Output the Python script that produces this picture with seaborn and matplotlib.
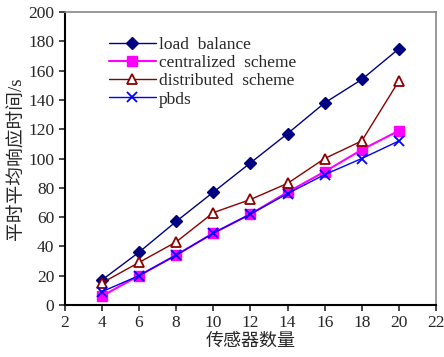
import numpy as np
import pandas as pd
import matplotlib
matplotlib.use("Agg")
import matplotlib.pyplot as plt
import seaborn as sns

sensors = [4, 6, 8, 10, 12, 14, 16, 18, 20]
load_balance = [17, 36, 57, 77, 97, 117, 138, 154, 175]
centralized = [6, 20, 34, 49, 62, 77, 91, 106, 119]
distributed = [15, 29, 43, 63, 72, 83, 100, 112, 153]
pbds = [9, 20, 34, 49, 62, 76, 89, 100, 112]

series_names = ["load  balance", "centralized  scheme", "distributed  scheme", "pbds"]

df = pd.DataFrame({
    "x": sensors * 4,
    "y": load_balance + centralized + distributed + pbds,
    "series": sum([[n] * len(sensors) for n in series_names], []),
})

sns.set_style("ticks")
plt.rcParams["font.family"] = ["Liberation Serif", "Noto Sans CJK SC"]

fig = plt.figure(figsize=(4.44, 3.57), dpi=100)
ax = fig.add_axes([0.146, 0.146, 0.836, 0.82])

styles = {
    "load  balance": dict(color="#000080", marker="D", ms=6, mfc="#000080", mec="#000080", lw=1.0),
    "centralized  scheme": dict(color="#ff00ff", marker="s", ms=7, mfc="#ff00ff", mec="#ff00ff", lw=1.5),
    "distributed  scheme": dict(color="#8b0000", marker="^", ms=7, mfc="white", mec="#8b0000", mew=1.3, lw=1.0),
    "pbds": dict(color="#0000ff", marker="x", ms=7, mec="#0000ff", mew=1.3, lw=1.0),
}

for name in series_names:
    sub = df[df["series"] == name]
    st = styles[name]
    sns.lineplot(data=sub, x="x", y="y", ax=ax, color=st["color"], lw=st["lw"],
                 marker=st["marker"], markersize=st["ms"],
                 markerfacecolor=st.get("mfc", st["color"]), markeredgecolor=st["mec"],
                 markeredgewidth=st.get("mew", 1.0), label=name)

ax.set_xlim(2, 22)
ax.set_ylim(0, 200)
ax.set_xticks(range(2, 23, 2))
ax.set_yticks(range(0, 201, 20))
ax.tick_params(labelsize=12.5, direction="out", length=4, width=1.2)
ax.set_xlabel("传感器数量", fontsize=13, labelpad=1)
ax.set_ylabel("平时平均响应时间/s", fontsize=13.5, labelpad=2)

for side in ["left", "bottom"]:
    ax.spines[side].set_color("black")
    ax.spines[side].set_linewidth(1.5)
for side in ["top", "right"]:
    ax.spines[side].set_color("#888888")
    ax.spines[side].set_linewidth(1.2)

ax.legend(loc="upper left", bbox_to_anchor=(0.1, 0.94), frameon=False, fontsize=12.5,
          handlelength=2.7, handletextpad=0.2, labelspacing=0.12, borderaxespad=0)

fig.savefig("out.png", dpi=100)
